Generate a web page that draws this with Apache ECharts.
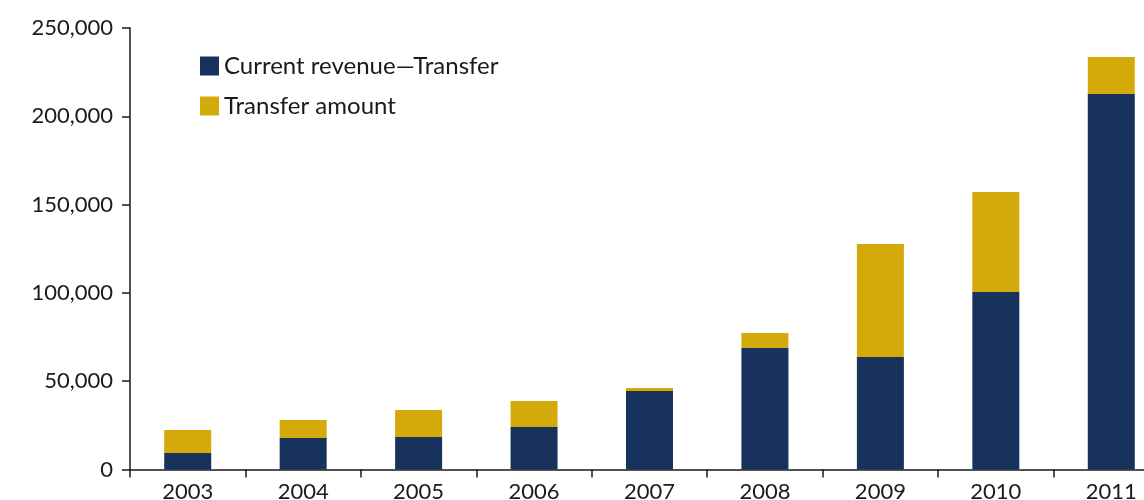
<!DOCTYPE html>
<html>
<head>
<meta charset="utf-8">
<script src="https://cdn.jsdelivr.net/npm/echarts@6/dist/echarts.min.js"></script>
<style>
  html, body { margin: 0; padding: 0; background: #fff; }
  #chart { width: 1144px; height: 500px; }
</style>
</head>
<body>
<div id="chart"></div>
<script>
// 数据
const years = ['2003', '2004', '2005', '2006', '2007', '2008', '2009', '2010', '2011']
const currentRevenue = [9300, 17800, 18400, 24100, 44400, 68800, 63700, 100500, 212600]
const transferAmount = [13100, 10200, 15300, 14700, 1700, 8500, 64000, 56600, 21000]
const yTicks = [0, 50000, 100000, 150000, 200000, 250000]

const font = 'Lato'
const ink = '#1a1a1a'

const chart = echarts.init(document.getElementById('chart'))

chart.setOption({
  animation: false,
  textStyle: { fontFamily: font },
  legend: {
    orient: 'vertical',
    left: 200,
    top: 54,
    padding: 0,
    itemWidth: 19,
    itemHeight: 19,
    itemGap: 16,
    icon: 'rect',
    textStyle: { fontFamily: font, fontSize: 24, color: ink },
    data: ['Current revenue\u2014Transfer', 'Transfer amount']
  },
  grid: {
    left: 130, top: 28, width: 1039, height: 441.5,
    containLabel: false, outerBoundsMode: 'none'
  },
  xAxis: {
    type: 'category',
    data: years,
    axisLine: { lineStyle: { color: ink, width: 1.5 } },
    axisTick: { show: true, length: 8, alignWithLabel: false, lineStyle: { color: ink, width: 1.5 } },
    axisLabel: { fontFamily: font, fontSize: 22, color: ink, margin: 11 }
  },
  yAxis: {
    type: 'value',
    min: yTicks[0],
    max: yTicks[yTicks.length - 1],
    interval: 50000,
    splitLine: { show: false },
    axisLine: { show: true, lineStyle: { color: ink, width: 1.5 } },
    axisTick: { show: true, length: 8, lineStyle: { color: ink, width: 1.5 } },
    axisLabel: {
      fontFamily: font, fontSize: 22, color: ink, margin: 17,
      formatter: v => v.toLocaleString('en-US')
    }
  },
  series: [
    {
      name: 'Current revenue\u2014Transfer',
      type: 'bar',
      stack: 'total',
      barWidth: 47,
      itemStyle: { color: '#17325c' },
      data: currentRevenue
    },
    {
      name: 'Transfer amount',
      type: 'bar',
      stack: 'total',
      barWidth: 47,
      itemStyle: { color: '#d4a90a' },
      data: transferAmount
    }
  ]
})
</script>
</body>
</html>
